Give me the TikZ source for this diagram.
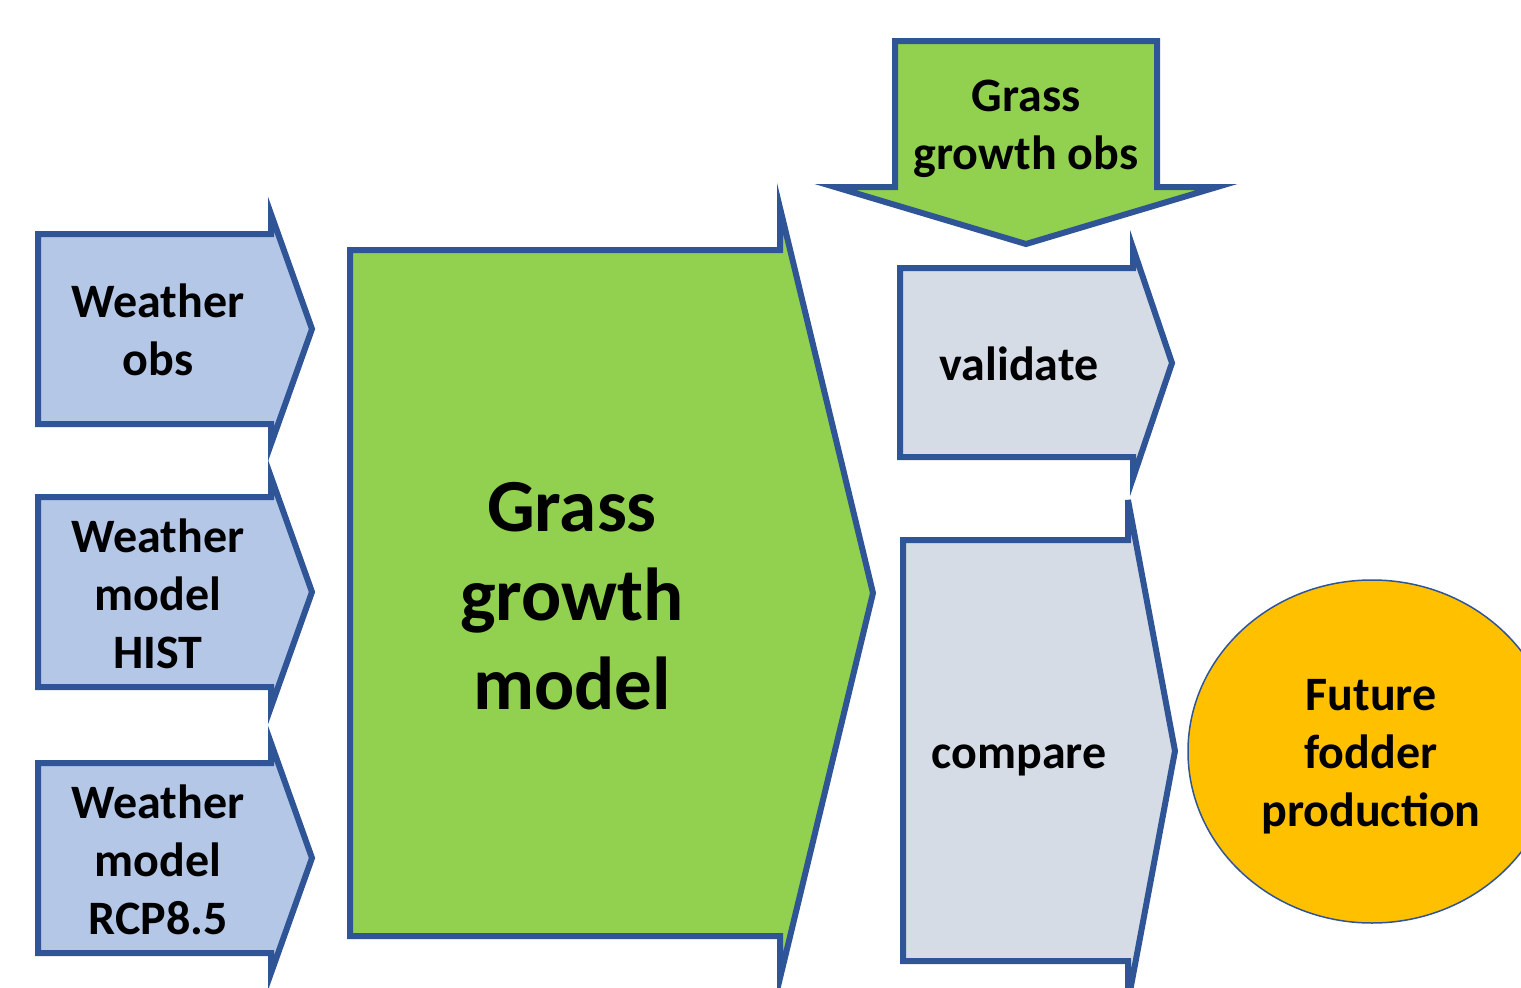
\documentclass[tikz,border=0pt]{standalone}
\usepackage{fontspec}
\setmainfont{Carlito}

\definecolor{edgeblue}{HTML}{2F5597}
\definecolor{inblue}{HTML}{B4C7E7}
\definecolor{grassgreen}{HTML}{92D050}
\definecolor{cmpgrey}{HTML}{D6DCE5}
\definecolor{fodderorange}{HTML}{FFC000}

\begin{document}
\begin{tikzpicture}[x=1pt, y=-1pt,
	blk/.style={draw=edgeblue, line width=6pt, line join=miter},
	lbl/.style={align=center, font=\bfseries\fontsize{48}{58}\selectfont, inner sep=0pt},
	biglbl/.style={align=center, font=\bfseries\fontsize{75}{89}\selectfont, inner sep=0pt}]
		\useasboundingbox (0,0) rectangle (1521,988);
		\clip (0,0) rectangle (1521,988);

		% weather inputs
		\draw[blk, fill=inblue] (38,234) -- (271,234) -- (271,214) -- (312,329) -- (271,444) -- (271,424) -- (38,424) -- cycle;
		\node[lbl] (wobs) at (158,330) {Weather\\obs};

		\draw[blk, fill=inblue] (38,497) -- (271,497) -- (271,477) -- (312,592) -- (271,707) -- (271,687) -- (38,687) -- cycle;
		\node[lbl] (whist) at (158,594) {Weather\\model\\HIST};

		\draw[blk, fill=inblue] (38,763) -- (271,763) -- (271,743) -- (312,858) -- (271,973) -- (271,953) -- (38,953) -- cycle;
		\node[lbl] (wrcp) at (158,860) {Weather\\model\\RCP8.5};

		% the model itself
		\draw[blk, fill=grassgreen] (350,250) -- (780,250) -- (780,208) -- (873,593) -- (780,978) -- (780,936) -- (350,936) -- cycle;
		\node[biglbl] (model) at (572,596) {Grass\\growth\\model};

		% observations coming down
		\draw[blk, fill=grassgreen] (895,41) -- (1157,41) -- (1157,187) -- (1217,187) -- (1026,244) -- (835,187) -- (895,187) -- cycle;
		\node[lbl] (gobs) at (1026,129) {Grass\\growth obs};

		% outputs
		\draw[blk, fill=cmpgrey] (900,268) -- (1133,268) -- (1133,248) -- (1172,363) -- (1133,478) -- (1133,457) -- (900,457) -- cycle;
		\node[lbl] (valid) at (1019,364) {validate};

		\draw[blk, fill=cmpgrey] (903,540) -- (1128,540) -- (1128,500) -- (1175,751) -- (1128,1002) -- (1128,961) -- (903,961) -- cycle;
		\node[lbl] (comp) at (1019,760) {compare};

		\draw[draw=edgeblue, line width=1.5pt, fill=fodderorange] (1372,751.5) ellipse [x radius=184, y radius=171.5];
		\node[lbl] (fodder) at (1371,757) {Future\\fodder\\production};

	\end{tikzpicture}
\end{document}
